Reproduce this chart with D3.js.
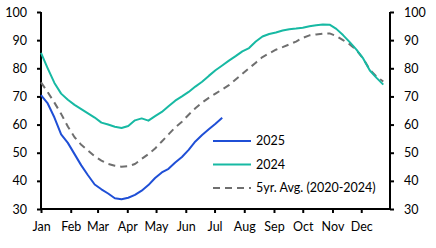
<!DOCTYPE html>
<html>
<head>
<meta charset="utf-8">
<script src="https://cdn.jsdelivr.net/npm/d3@7"></script>
<style>
  body { margin: 0; background: #fff; }
  svg text { font-family: Lato, "Open Sans", sans-serif; }
</style>
</head>
<body>
<div id="chart"></div>
<script>
// weekly readings, week 0 = 1 Jan
const months = ["Jan","Feb","Mar","Apr","May","Jun","Jul","Aug","Sep","Oct","Nov","Dec"];
const yTicks = [30, 40, 50, 60, 70, 80, 90, 100];

const s2025 = [70.5, 67.5, 62.5, 56.5, 53.5, 49.5, 45.5, 42, 38.7, 37, 35.5, 33.8, 33.5, 34,
  35, 36.5, 38.5, 41, 43, 44.3, 46.5, 48.5, 51, 54, 56.3, 58.3, 60.3, 62.4];

const s2024 = [85.5, 80, 74.8, 71, 68.8, 67, 65.5, 64, 62.5, 60.7, 60, 59.2, 58.8, 59.5,
  61.5, 62.2, 61.4, 63, 64.5, 66.5, 68.5, 70, 71.6, 73.5, 75.2, 77.3, 79.3, 81, 82.7, 84.3,
  86, 87.2, 89.5, 91.3, 92.2, 92.7, 93.4, 93.9, 94.1, 94.4, 94.9, 95.3, 95.6, 95.5, 94,
  91.8, 89.3, 86.6, 83.5, 79.2, 76.6, 74.2];

const sAvg = [75, 71.5, 67.8, 63.8, 59.3, 55.5, 52.8, 50.8, 48.7, 47.2, 46, 45.4, 45, 45.2,
  46, 47.8, 49.5, 51.5, 54, 56.5, 59, 61, 63.5, 65.8, 67.8, 69.5, 71, 72.5, 74, 76, 78, 80,
  82, 84, 85.3, 86.6, 87.5, 88.5, 89.5, 90.8, 91.7, 92, 92.3, 92.4, 91.5, 90, 88.5, 86.5,
  83.5, 79.5, 77, 75.3];

const seriesNames = ["2025", "2024", "5yr. Avg. (2020-2024)"];

const W = 436, H = 248;
const margin = { top: 12, right: 46, bottom: 39, left: 41 };
const innerW = W - margin.left - margin.right,
      innerH = H - margin.top - margin.bottom;

const svg = d3.select("#chart").append("svg")
    .attr("width", W)
    .attr("height", H);

const g = svg.append("g")
    .attr("transform", `translate(${margin.left},${margin.top})`);

const start = new Date(2023, 0, 1), end = new Date(2023, 11, 31);
const x = d3.scaleTime().domain([start, end]).range([0, innerW]);
const y = d3.scaleLinear().domain([30, 100]).range([innerH, 0]);

const weekDate = i => d3.timeDay.offset(start, 7 * i);

const line = d3.line()
    .x((d, i) => x(weekDate(i)))
    .y(d => y(d));

// axes
const monthTicks = d3.timeMonth.range(start, end);

const xAxis = g.append("g")
    .attr("transform", `translate(0,${innerH})`)
    .call(d3.axisBottom(x).tickValues(monthTicks).tickSize(4).tickPadding(9)
      .tickFormat((d, i) => months[i]));

const yLeft = g.append("g")
    .call(d3.axisLeft(y).tickValues(yTicks).tickSize(4).tickPadding(10));

const yRight = g.append("g")
    .attr("transform", `translate(${innerW},0)`)
    .call(d3.axisRight(y).tickValues(yTicks).tickSize(4).tickPadding(10));

[xAxis, yLeft, yRight].forEach(a => {
  a.select(".domain").attr("stroke", "#000").attr("stroke-width", 2);
  a.selectAll(".tick line").attr("stroke", "#000").attr("stroke-width", 2);
  a.selectAll(".tick text").attr("font-size", 12.5).attr("fill", "#000");
});
xAxis.select(".domain").attr("d", `M0,0H${innerW}`);
yLeft.select(".domain").attr("d", `M0,0V${innerH}`);
yRight.select(".domain").attr("d", `M0,0V${innerH}`);

// lines
const styles = [
  { data: s2025, color: "#1f4fd6", dash: null },
  { data: s2024, color: "#17b9a3", dash: null },
  { data: sAvg, color: "#6f6f6f", dash: "7,5" }
];

// draw average first, then 2024, then 2025 on top
[2, 1, 0].forEach(k => {
  const s = styles[k];
  g.append("path")
    .datum(s.data)
    .attr("fill", "none")
    .attr("stroke", s.color)
    .attr("stroke-width", 2)
    .attr("stroke-dasharray", s.dash)
    .attr("stroke-linejoin", "round")
    .attr("d", line);
});

// legend
const legend = svg.append("g").attr("transform", "translate(213,141)");
styles.forEach((s, i) => {
  const row = legend.append("g").attr("transform", `translate(0,${i * 23.5})`);
  row.append("line")
    .attr("x1", 0).attr("x2", 38)
    .attr("stroke", s.color)
    .attr("stroke-width", 2)
    .attr("stroke-dasharray", s.dash);
  row.append("text")
    .attr("x", 43)
    .attr("dy", "0.35em")
    .attr("font-size", 12.5)
    .text(seriesNames[i]);
});
</script>
</body>
</html>
